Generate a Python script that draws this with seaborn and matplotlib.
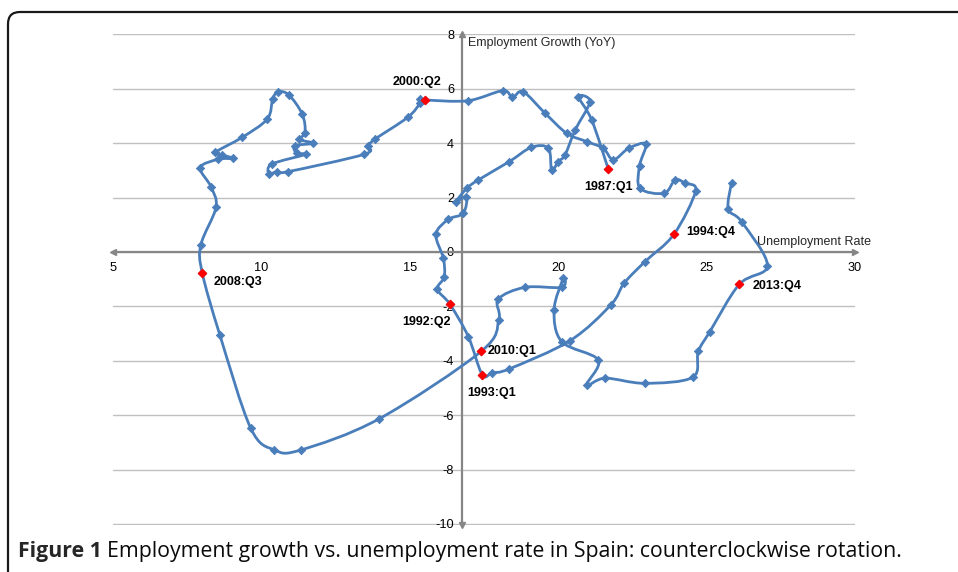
import matplotlib
matplotlib.use("Agg")
import matplotlib.pyplot as plt
import numpy as np
import pandas as pd
import seaborn as sns
from matplotlib.patches import FancyBboxPatch, PathPatch
from matplotlib.path import Path
from matplotlib.ticker import MultipleLocator

# quarterly path (unemployment rate %, employment growth YoY %)
unemployment = [
    21.69, 21.13, 20.68, 21.07, 20.57, 20.23, 20.00, 19.78, 19.67, 19.10,
    18.35, 17.31, 16.92, 16.57, 16.91, 16.80, 16.30, 15.88, 16.13, 16.16,
    15.93, 16.35, 16.97, 17.44, 17.78, 18.35, 20.40, 21.77, 22.22, 22.92,
    23.90, 24.63, 24.27, 23.94, 23.57, 22.76, 22.74, 22.95, 22.37, 21.86,
    21.52, 20.96, 20.29, 19.56, 18.82, 18.46, 18.13, 16.95, 15.51, 15.34,
    15.34, 14.93, 13.83, 13.60, 13.46, 10.88, 10.52, 10.26, 10.35, 11.49,
    11.19, 11.13, 11.75, 11.28, 11.47, 11.38, 10.93, 10.57, 10.38, 10.20,
    9.36, 8.44, 8.66, 9.05, 8.55, 7.94, 8.30, 8.47, 7.96, 8.01,
    8.60, 9.64, 10.44, 11.33, 13.96, 17.40, 18.00, 17.98, 18.88, 20.12,
    20.17, 19.86, 20.12, 21.35, 20.96, 21.58, 22.92, 24.53, 24.72, 25.11,
    26.10, 27.05, 26.18, 25.73, 25.84,
]
growth = [
    3.04, 4.85, 5.71, 5.53, 4.48, 3.57, 3.32, 3.00, 3.81, 3.85,
    3.32, 2.65, 2.34, 1.85, 2.03, 1.42, 1.20, 0.65, -0.23, -0.91,
    -1.37, -1.92, -3.11, -4.51, -4.44, -4.30, -3.26, -1.95, -1.15, -0.36,
    0.65, 2.24, 2.53, 2.65, 2.16, 2.34, 3.17, 3.97, 3.81, 3.39,
    3.81, 4.06, 4.36, 5.10, 5.89, 5.69, 5.93, 5.56, 5.59, 5.63,
    5.47, 4.95, 4.15, 3.90, 3.59, 2.95, 2.95, 2.87, 3.23, 3.59,
    3.63, 3.90, 4.00, 4.14, 4.39, 5.06, 5.77, 5.89, 5.63, 4.89,
    4.22, 3.66, 3.57, 3.44, 3.41, 3.10, 2.40, 1.64, 0.26, -0.78,
    -3.05, -6.48, -7.28, -7.28, -6.14, -3.66, -2.50, -1.74, -1.30, -1.30,
    -0.97, -2.13, -3.30, -3.97, -4.89, -4.64, -4.83, -4.61, -3.66, -2.93,
    -1.19, -0.50, 1.11, 1.58, 2.55,
]
label_names = ["1987:Q1", "1992:Q2", "1993:Q1", "1994:Q4",
               "2000:Q2", "2008:Q3", "2010:Q1", "2013:Q4"]
label_index = [0, 21, 23, 30, 48, 79, 85, 100]

# label placement: offset in points and horizontal alignment
label_style = {
    "1987:Q1": ((0, -13), "center"),
    "1992:Q2": ((-17, -13), "center"),
    "1993:Q1": ((7, -13), "center"),
    "1994:Q4": ((8.5, 2), "left"),
    "2000:Q2": ((-6, 13), "center"),
    "2008:Q3": ((8, -6.5), "left"),
    "2010:Q1": ((5, 0.5), "left"),
    "2013:Q4": ((9.5, -1.5), "left"),
}

BLUE = "#4A7EBB"
AXIS_GREY = "#868686"
Y_CROSS = 16.75


def smooth_path(xs, ys):
    """Excel-style smoothed line: cubic Bezier segments through every point."""
    pts = np.column_stack([xs, ys])
    n = len(pts)
    verts = [pts[0]]
    codes = [Path.MOVETO]
    for i in range(n - 1):
        p0 = pts[max(i - 1, 0)]
        p1 = pts[i]
        p2 = pts[i + 1]
        p3 = pts[min(i + 2, n - 1)]
        verts += [p1 + (p2 - p0) / 6, p2 - (p3 - p1) / 6, p2]
        codes += [Path.CURVE4] * 3
    return Path(verts, codes)


sns.set_theme(style="white")
plt.rcParams["font.family"] = ["Liberation Sans", "DejaVu Sans"]
plt.rcParams["axes.unicode_minus"] = False

df = pd.DataFrame({"unemployment": unemployment, "growth": growth})
marked = df.iloc[label_index].assign(name=label_names)

fig = plt.figure(figsize=(9.58, 5.72), dpi=100)
ax = fig.add_axes([113 / 958, 1 - 525 / 572, 742 / 958, 490.6 / 572])

ax.add_patch(PathPatch(smooth_path(df["unemployment"], df["growth"]),
                       facecolor="none", edgecolor=BLUE, lw=2.0, zorder=3))
sns.scatterplot(data=df, x="unemployment", y="growth", marker="D", s=18,
                color=BLUE, edgecolor=BLUE, linewidth=0.6, zorder=4, ax=ax)
sns.scatterplot(data=marked, x="unemployment", y="growth", marker="D", s=20,
                color="#FF0000", edgecolor="#FF0000", linewidth=0.6, zorder=5, ax=ax)

for row in marked.itertuples():
    offset, ha = label_style[row.name]
    ax.annotate(row.name, (row.unemployment, row.growth), xytext=offset,
                textcoords="offset points", ha=ha, va="center",
                fontsize=9, fontweight="bold", color="black", zorder=6)

# small margin below -10 so the bottom gridline is not clipped
ax.set_xlim(5, 30)
ax.set_ylim(-10.04, 8)
ax.xaxis.set_major_locator(MultipleLocator(5))
ax.xaxis.set_minor_locator(MultipleLocator(1))
ax.yaxis.set_major_locator(MultipleLocator(2))
ax.yaxis.set_minor_locator(MultipleLocator(0.4))
ax.set_xlabel("")
ax.set_ylabel("")

ax.yaxis.grid(True, color="#C0C0C0", lw=1)
ax.xaxis.grid(False)
ax.set_axisbelow(True)

for side in ("top", "right"):
    ax.spines[side].set_visible(False)
ax.spines["left"].set_position(("data", Y_CROSS))
ax.spines["bottom"].set_position(("data", 0))
for side in ("left", "bottom"):
    ax.spines[side].set_color(AXIS_GREY)
    ax.spines[side].set_linewidth(1.6)
    ax.spines[side].set_zorder(2)

ax.tick_params(which="both", direction="inout", color=AXIS_GREY, width=1,
               labelsize=9.2, labelcolor="black")
ax.tick_params(axis="x", which="both", length=5, pad=4.5)
ax.tick_params(axis="y", which="both", length=5, pad=3)

# arrow heads at both ends of the two axes
ax.plot([0], [0], marker="<", ms=5, color=AXIS_GREY,
        transform=ax.get_yaxis_transform(), clip_on=False)
ax.plot([1], [0], marker=">", ms=5, color=AXIS_GREY,
        transform=ax.get_yaxis_transform(), clip_on=False)
ax.plot([Y_CROSS], [1], marker="^", ms=5, color=AXIS_GREY,
        transform=ax.get_xaxis_transform(), clip_on=False)
ax.plot([Y_CROSS], [0], marker="v", ms=5, color=AXIS_GREY,
        transform=ax.get_xaxis_transform(), clip_on=False)

ax.text(26.7, 0.15, "Unemployment Rate", fontsize=9, ha="left", va="bottom")
ax.text(16.95, 7.68, "Employment Growth (YoY)", fontsize=9, ha="left", va="center")

# rounded frame of the figure panel
fig.patches.append(FancyBboxPatch((8, -40), 1100, 572 - 12 + 40,
                                  boxstyle="round,pad=0,rounding_size=12",
                                  transform=None, facecolor="none",
                                  edgecolor="#1a1a1a", lw=1.6))

cap_font = ["Open Sans", "DejaVu Sans"]
cap_y = 15 / 572
t1 = fig.text(18 / 958, cap_y, "Figure 1", fontsize=15.3, fontweight="bold",
              family=cap_font, va="baseline")
fig.canvas.draw()
x1 = t1.get_window_extent().x1
fig.text((x1 + 5) / 958, cap_y,
         "Employment growth vs. unemployment rate in Spain: counterclockwise rotation.",
         fontsize=15.3, family=cap_font, va="baseline", color="#0a0a0a")

fig.savefig("out.png", dpi=100)
